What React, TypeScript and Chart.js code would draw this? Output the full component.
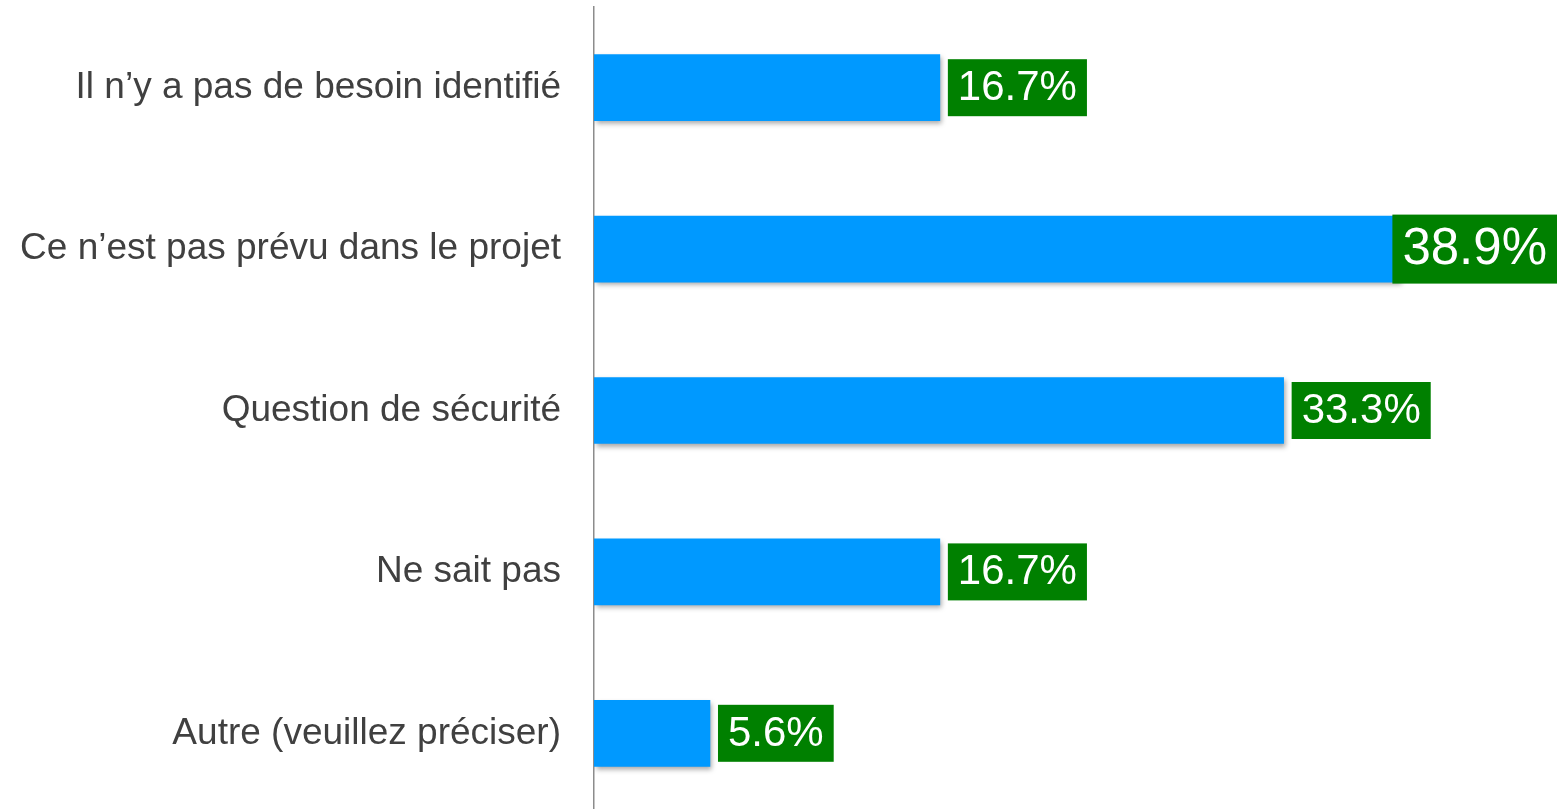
import React, { useEffect, useRef } from "react";
import { Chart, registerables } from "chart.js";

Chart.register(...registerables);

const categories = [
  "Il n’y a pas de besoin identifié",
  "Ce n’est pas prévu dans le projet",
  "Question de sécurité",
  "Ne sait pas",
  "Autre (veuillez préciser)",
];
const values = [16.7, 38.9, 33.3, 16.7, 5.6];

const FONT = "'Liberation Sans', Arial, Helvetica, sans-serif";

const shadowPlugin = {
  id: "barShadow",
  beforeDatasetDraw(chart: any) {
    const ctx = chart.ctx;
    ctx.save();
    ctx.shadowColor = "rgba(0,0,0,0.35)";
    ctx.shadowBlur = 5;
    ctx.shadowOffsetX = 2;
    ctx.shadowOffsetY = 3;
  },
  afterDatasetDraw(chart: any) {
    chart.ctx.restore();
  },
};

const labelPlugin = {
  id: "valueBoxes",
  afterDatasetsDraw(chart: any) {
    const ctx = chart.ctx;
    const meta = chart.getDatasetMeta(0);
    const data = chart.data.datasets[0].data as number[];
    const maxV = Math.max(...data);
    meta.data.forEach((bar: any, i: number) => {
      const v = data[i];
      const size = v === maxV ? 51 : 42;
      const text = v.toFixed(1) + "%";
      ctx.save();
      ctx.font = `${size}px ${FONT}`;
      const tw = ctx.measureText(text).width;
      const pad = 10;
      const bw = tw + pad * 2;
      const bh = Math.round(size * 1.36);
      let x = bar.x + 8;
      if (x + bw > chart.width) x = chart.width - bw;
      const y = bar.y - bh / 2;
      ctx.fillStyle = "#008000";
      ctx.fillRect(x, y, bw, bh);
      ctx.fillStyle = "#ffffff";
      ctx.textAlign = "left";
      ctx.textBaseline = "middle";
      ctx.fillText(text, x + pad, bar.y + 1);
      ctx.restore();
    });
  },
};

export default function App() {
  const ref = useRef<HTMLCanvasElement | null>(null);
  useEffect(() => {
    document.body.style.overflow = "hidden";
    const chart = new Chart(ref.current as HTMLCanvasElement, {
      type: "bar",
      data: {
        labels: categories,
        datasets: [
          {
            data: values,
            backgroundColor: "#0099FF",
            borderWidth: 0,
            barThickness: 66,
          },
        ],
      },
      plugins: [shadowPlugin, labelPlugin],
      options: {
        indexAxis: "y",
        animation: false,
        responsive: true,
        maintainAspectRatio: false,
        layout: { padding: { top: 7, right: 0, bottom: 0, left: 0 } },
        plugins: { legend: { display: false }, tooltip: { enabled: false } },
        scales: {
          x: { display: false, min: 0, max: 46.5 },
          y: {
            afterFit(scale: any) {
              scale.width = 594;
              scale.paddingTop = 0;
              scale.paddingBottom = 0;
            },
            grid: { display: false, drawTicks: false },
            border: { display: true, color: "#8c8c8c", width: 1.5 },
            ticks: {
              padding: 33,
              color: "#404040",
              font: { family: FONT, size: 37 },
            },
          },
        },
      },
    });
    return () => chart.destroy();
  }, []);
  return (
    <div style={{ position: "fixed", left: 0, top: 0, width: 1557, height: 814 }}>
      <canvas ref={ref} />
    </div>
  );
}
